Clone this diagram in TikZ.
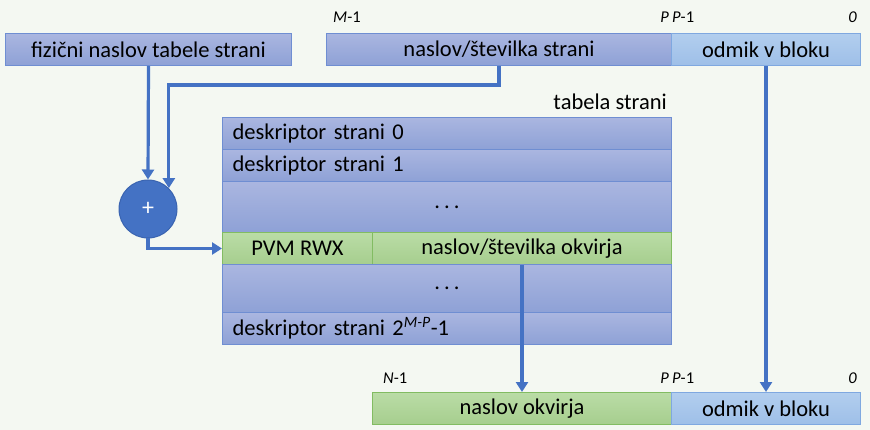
\documentclass[tikz,border=0pt]{standalone}
\usepackage{fontspec}
\setmainfont{Carlito}
\usetikzlibrary{arrows.meta}
\definecolor{bgc}{HTML}{F4F8F2}
\definecolor{bluetop}{HTML}{AAB6E0}
\definecolor{bluebot}{HTML}{8EA1D6}
\definecolor{blueline}{HTML}{6F8ED2}
\definecolor{ltop}{HTML}{B2CEEE}
\definecolor{lbot}{HTML}{9EBFE8}
\definecolor{lline}{HTML}{7FA8E0}
\definecolor{gtop}{HTML}{BADCA6}
\definecolor{gbot}{HTML}{A6CE8E}
\definecolor{gline}{HTML}{82BC62}
\definecolor{arr}{HTML}{4472C4}
\definecolor{circline}{HTML}{3A64B0}
\newcommand{\tridots}{.\hspace{4pt}.\hspace{4pt}.}
\tikzset{
  x=1pt, y=-1pt,
  every node/.style={font=\fontsize{22.5}{24}\selectfont, text=black},
  bluebox/.style={draw=blueline, line width=1pt, top color=bluetop, bottom color=bluebot, minimum height=32pt, inner sep=0pt, anchor=north west},
  lightbox/.style={draw=lline, line width=1pt, top color=ltop, bottom color=lbot, minimum height=32pt, inner sep=0pt, anchor=north west},
  greenbox/.style={draw=gline, line width=1pt, top color=gtop, bottom color=gbot, minimum height=32pt, inner sep=0pt, anchor=north west},
  rowbox/.style={bluebox, text width=429pt, align=left, inner xsep=10pt, inner ysep=0pt},
  bitlbl/.style={font=\fontsize{16.5}{18}\selectfont, inner sep=0pt},
  conn/.style={draw=arr, line width=3.2pt, -{Triangle[length=10pt,width=12pt]}},
}
\begin{document}
\begin{tikzpicture}
\fill[bgc] (0,0) rectangle (870,430);
\useasboundingbox (0,0) rectangle (870,430);

% top boxes
\node[bluebox, minimum width=286pt] (fz) at (5,33) {fizični naslov tabele strani};
\node[bluebox, minimum width=345pt] (ns) at (326,33) {naslov/številka strani};
\node[lightbox, minimum width=189pt] (od1) at (671,33) {odmik v bloku};
\node[bitlbl, anchor=west] (m1) at (333,17) {\textit{M}-1};
\node[bitlbl, anchor=east] (p1) at (669,17) {\textit{P}};
\node[bitlbl, anchor=west] (pm1) at (672,17) {\textit{P}-1};
\node[bitlbl, anchor=east] (z1) at (857,17) {\textit{0}};

% table
\node[anchor=east, inner sep=0pt] (tl) at (667,102) {tabela strani};
\node[rowbox, minimum height=32pt] (r0) at (222,117) {deskriptor strani 0};
\node[rowbox, minimum height=32pt] (r1) at (222,149) {deskriptor strani 1};
\node[rowbox, minimum height=51pt, align=center] (d1) at (222,181) {\tridots};
\node[greenbox, minimum width=150pt] (pvm) at (222,232) {PVM RWX};
\node[greenbox, minimum width=299pt] (nso) at (372,232) {naslov/številka okvirja};
\node[rowbox, minimum height=48pt, align=center] (d2) at (222,264) {\tridots};
\node[rowbox, minimum height=32pt] (rl) at (222,312) {deskriptor strani 2\textsuperscript{\textit{M-P}}-1};

% adder
\node[circle, draw=circline, line width=1pt, fill=arr, minimum size=58pt, inner sep=0pt, text=white, font=\fontsize{24}{24}\selectfont] (circ) at (148,209) {+};

% bottom boxes
\node[greenbox, minimum width=299pt] (no) at (372,392) {naslov okvirja};
\node[lightbox, minimum width=189pt] (od2) at (671,392) {odmik v bloku};
\node[bitlbl, anchor=west] (n1) at (383,378) {\textit{N}-1};
\node[bitlbl, anchor=east] (p2) at (669,378) {\textit{P}};
\node[bitlbl, anchor=west] (pm2) at (672,378) {\textit{P}-1};
\node[bitlbl, anchor=east] (z2) at (857,378) {\textit{0}};

% connectors
\coordinate (bend) at (circ.north east |- 0,85);
\draw[conn] (fz.south) -- (circ.north);
\draw[conn] (ns.south) |- (bend) -- (circ.north east);
\draw[conn] (circ.south) |- (pvm.west);
\draw[conn] (nso.south) -- (no.north);
\draw[conn] (od1.south) -- (od2.north);
\end{tikzpicture}
\end{document}
